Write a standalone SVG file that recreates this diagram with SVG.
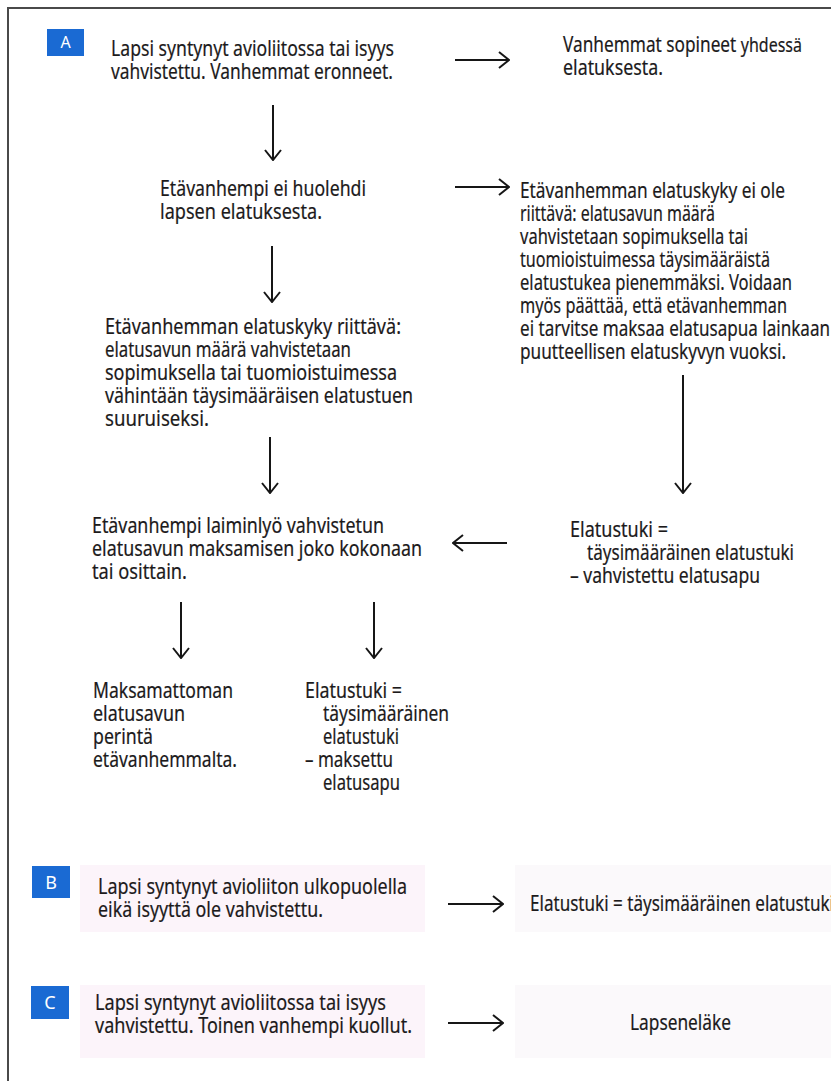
<svg xmlns="http://www.w3.org/2000/svg" width="831" height="1081" viewBox="0 0 831 1081">
<style>
.t{font-family:"Liberation Sans Narrow","Noto Sans","Liberation Sans",sans-serif;font-size:21px;fill:#1c1a1b;stroke:#1c1a1b;stroke-width:0.2}
.b{fill:#1a6ad3}
.bl{font-family:"Noto Sans","Liberation Sans",sans-serif;fill:#fff;text-anchor:middle}
.ln{stroke:#161616;stroke-width:2;fill:none}
.tint{fill:#fcf4fa}
.tint2{fill:#fbf9fb}
</style>
<defs>
<marker id="ah" markerUnits="userSpaceOnUse" viewBox="0 0 12 18" refX="11" refY="9" markerWidth="12" markerHeight="18" orient="auto">
<path d="M1,1 L11,9 L1,17" fill="none" stroke="#161616" stroke-width="2"/>
</marker>
</defs>
<rect width="831" height="1081" fill="#fff"/>
<path d="M8,1081 V8 H831" stroke="#4a4a4a" stroke-width="2" fill="none"/>
<g id="tints">
<rect class="tint" x="80" y="865" width="345" height="67"/>
<rect class="tint2" x="515" y="865" width="316" height="67"/>
<rect class="tint" x="80" y="985" width="345" height="73"/>
<rect class="tint2" x="515" y="985" width="316" height="73"/>
</g>
<g id="badgeA"><rect class="b" x="47" y="29" width="37" height="27"/><text class="bl" x="65.500" y="48" font-size="16">A</text></g>
<g id="n1"><text class="t" x="111" y="56" textLength="283" lengthAdjust="spacingAndGlyphs">Lapsi syntynyt avioliitossa tai isyys</text><text class="t" x="111" y="79" textLength="282" lengthAdjust="spacingAndGlyphs">vahvistettu. Vanhemmat eronneet.</text></g>
<g id="n2"><text class="t" x="563" y="52" textLength="239" lengthAdjust="spacingAndGlyphs">Vanhemmat sopineet <tspan font-size="19.5">yhdessä</tspan></text><text class="t" x="563" y="75" textLength="100" lengthAdjust="spacingAndGlyphs">elatuksesta.</text></g>
<g id="n3"><text class="t" x="160" y="196" textLength="206" lengthAdjust="spacingAndGlyphs">Etävanhempi ei huolehdi</text><text class="t" x="160" y="219" textLength="162" lengthAdjust="spacingAndGlyphs">lapsen elatuksesta.</text></g>
<g id="n4">
<text class="t" x="520" y="198" textLength="265" lengthAdjust="spacingAndGlyphs">Etävanhemman elatuskyky ei ole</text>
<text class="t" x="520" y="221" textLength="195" lengthAdjust="spacingAndGlyphs">riittävä: elatusavun määrä</text>
<text class="t" x="520" y="244" textLength="228" lengthAdjust="spacingAndGlyphs">vahvistetaan sopimuksella tai</text>
<text class="t" x="520" y="267" textLength="250" lengthAdjust="spacingAndGlyphs">tuomioistuimessa täysimääräistä</text>
<text class="t" x="520" y="290" textLength="272" lengthAdjust="spacingAndGlyphs">elatustukea pienemmäksi. Voidaan</text>
<text class="t" x="520" y="313" textLength="267" lengthAdjust="spacingAndGlyphs">myös päättää, että etävanhemman</text>
<text class="t" x="520" y="336" textLength="310" lengthAdjust="spacingAndGlyphs">ei tarvitse maksaa elatusapua lainkaan</text>
<text class="t" x="520" y="359" textLength="266" lengthAdjust="spacingAndGlyphs">puutteellisen elatuskyvyn vuoksi.</text>
</g>
<g id="n5">
<text class="t" x="105" y="334" textLength="296" lengthAdjust="spacingAndGlyphs">Etävanhemman elatuskyky riittävä:</text>
<text class="t" x="105" y="357" textLength="246" lengthAdjust="spacingAndGlyphs">elatusavun määrä vahvistetaan</text>
<text class="t" x="105" y="380" textLength="292" lengthAdjust="spacingAndGlyphs">sopimuksella tai tuomioistuimessa</text>
<text class="t" x="105" y="403" textLength="308" lengthAdjust="spacingAndGlyphs">vähintään täysimääräisen elatustuen</text>
<text class="t" x="105" y="426" textLength="104" lengthAdjust="spacingAndGlyphs">suuruiseksi.</text>
</g>
<g id="n6">
<text class="t" x="92" y="533" textLength="292" lengthAdjust="spacingAndGlyphs">Etävanhempi laiminlyö vahvistetun</text>
<text class="t" x="92" y="556" textLength="330" lengthAdjust="spacingAndGlyphs">elatusavun maksamisen joko kokonaan</text>
<text class="t" x="92" y="579" textLength="95" lengthAdjust="spacingAndGlyphs">tai osittain.</text>
</g>
<g id="n7">
<text class="t" x="570" y="537" textLength="98" lengthAdjust="spacingAndGlyphs">Elatustuki =</text>
<text class="t" x="587" y="560" textLength="207" lengthAdjust="spacingAndGlyphs">täysimääräinen elatustuki</text>
<text class="t" x="570" y="583" textLength="190" lengthAdjust="spacingAndGlyphs">– vahvistettu elatusapu</text>
</g>
<g id="n8">
<text class="t" x="93" y="698" textLength="140" lengthAdjust="spacingAndGlyphs">Maksamattoman</text>
<text class="t" x="93" y="721" textLength="92" lengthAdjust="spacingAndGlyphs">elatusavun</text>
<text class="t" x="93" y="744" textLength="60" lengthAdjust="spacingAndGlyphs">perintä</text>
<text class="t" x="93" y="767" textLength="144" lengthAdjust="spacingAndGlyphs">etävanhemmalta.</text>
</g>
<g id="n9">
<text class="t" x="305" y="698" textLength="97" lengthAdjust="spacingAndGlyphs">Elatustuki =</text>
<text class="t" x="323" y="721" textLength="126" lengthAdjust="spacingAndGlyphs">täysimääräinen</text>
<text class="t" x="323" y="744" textLength="76" lengthAdjust="spacingAndGlyphs">elatustuki</text>
<text class="t" x="305" y="767" textLength="88" lengthAdjust="spacingAndGlyphs">– maksettu</text>
<text class="t" x="323" y="790" textLength="77" lengthAdjust="spacingAndGlyphs">elatusapu</text>
</g>
<g id="badgeB"><rect class="b" x="32" y="866" width="38" height="32"/><text class="bl" x="51" y="889" font-size="18">B</text></g>
<g id="n10"><text class="t" x="98" y="894" textLength="309" lengthAdjust="spacingAndGlyphs">Lapsi syntynyt avioliiton ulkopuolella</text><text class="t" x="98" y="917" textLength="225" lengthAdjust="spacingAndGlyphs">eikä isyyttä ole vahvistettu.</text></g>
<g id="n11"><text class="t" x="530" y="911" textLength="304" lengthAdjust="spacingAndGlyphs">Elatustuki = täysimääräinen elatustuki</text></g>
<g id="badgeC"><rect class="b" x="31" y="986" width="38" height="33"/><text class="bl" x="50" y="1009" font-size="18">C</text></g>
<g id="n12"><text class="t" x="95" y="1010" textLength="291" lengthAdjust="spacingAndGlyphs">Lapsi syntynyt avioliitossa tai isyys</text><text class="t" x="95" y="1033" textLength="317" lengthAdjust="spacingAndGlyphs">vahvistettu. Toinen vanhempi kuollut.</text></g>
<g id="n13"><text class="t" x="630" y="1030" textLength="101" lengthAdjust="spacingAndGlyphs">Lapseneläke</text></g>
<g id="connectors" class="ln">
<line x1="455" y1="60" x2="509" y2="60" marker-end="url(#ah)"/>
<line x1="273" y1="105" x2="273" y2="160" marker-end="url(#ah)"/>
<line x1="455" y1="187" x2="509" y2="187" marker-end="url(#ah)"/>
<line x1="272" y1="246" x2="272" y2="302" marker-end="url(#ah)"/>
<line x1="270" y1="437" x2="270" y2="493" marker-end="url(#ah)"/>
<line x1="683" y1="375" x2="683" y2="493" marker-end="url(#ah)"/>
<line x1="507" y1="543" x2="453" y2="543" marker-end="url(#ah)"/>
<line x1="181" y1="602" x2="181" y2="658" marker-end="url(#ah)"/>
<line x1="374" y1="602" x2="374" y2="658" marker-end="url(#ah)"/>
<line x1="448" y1="904" x2="503" y2="904" marker-end="url(#ah)"/>
<line x1="448" y1="1023" x2="503" y2="1023" marker-end="url(#ah)"/>
</g>
</svg>
